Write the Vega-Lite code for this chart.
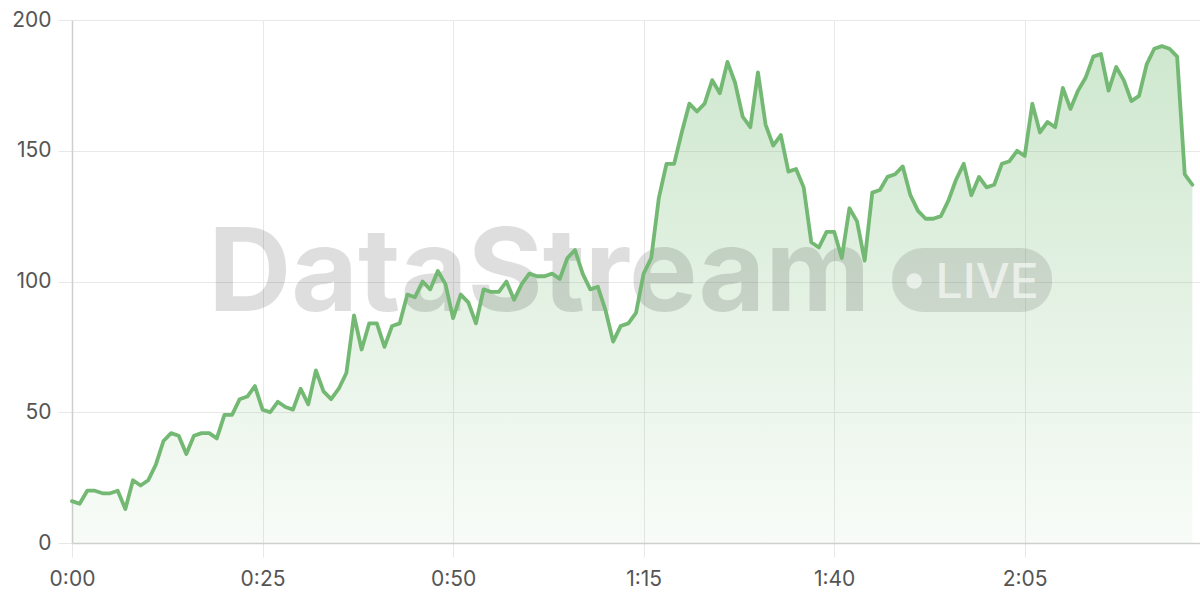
{
  "$schema": "https://vega.github.io/schema/vega-lite/v6.json",
  "width": 1128,
  "height": 523,
  "autosize": "none",
  "padding": {"left": 72, "top": 20, "right": 0, "bottom": 57},
  "background": "white",
  "config": {
    "view": {"stroke": null},
    "axis": {
      "labelFont": "Inter",
      "labelFontSize": 21,
      "labelColor": "#555555",
      "gridColor": "#e8e8e8",
      "gridWidth": 1,
      "tickColor": "#e8e8e8",
      "tickSize": 14,
      "domainColor": "#cfcfcf",
      "domainWidth": 1.5,
      "title": null
    }
  },
  "datasets": {
    "series": [
      {"t":0,"v":16},{"t":1,"v":15},{"t":2,"v":20},{"t":3,"v":20},{"t":4,"v":19},{"t":5,"v":19},{"t":6,"v":20},{"t":7,"v":13},{"t":8,"v":24},{"t":9,"v":22},
      {"t":10,"v":24},{"t":11,"v":30},{"t":12,"v":39},{"t":13,"v":42},{"t":14,"v":41},{"t":15,"v":34},{"t":16,"v":41},{"t":17,"v":42},{"t":18,"v":42},{"t":19,"v":40},
      {"t":20,"v":49},{"t":21,"v":49},{"t":22,"v":55},{"t":23,"v":56},{"t":24,"v":60},{"t":25,"v":51},{"t":26,"v":50},{"t":27,"v":54},{"t":28,"v":52},{"t":29,"v":51},
      {"t":30,"v":59},{"t":31,"v":53},{"t":32,"v":66},{"t":33,"v":58},{"t":34,"v":55},{"t":35,"v":59},{"t":36,"v":65},{"t":37,"v":87},{"t":38,"v":74},{"t":39,"v":84},
      {"t":40,"v":84},{"t":41,"v":75},{"t":42,"v":83},{"t":43,"v":84},{"t":44,"v":95},{"t":45,"v":94},{"t":46,"v":100},{"t":47,"v":97},{"t":48,"v":104},{"t":49,"v":99},
      {"t":50,"v":86},{"t":51,"v":95},{"t":52,"v":92},{"t":53,"v":84},{"t":54,"v":97},{"t":55,"v":96},{"t":56,"v":96},{"t":57,"v":100},{"t":58,"v":93},{"t":59,"v":99},
      {"t":60,"v":103},{"t":61,"v":102},{"t":62,"v":102},{"t":63,"v":103},{"t":64,"v":101},{"t":65,"v":109},{"t":66,"v":112},{"t":67,"v":103},{"t":68,"v":97},{"t":69,"v":98},
      {"t":70,"v":89},{"t":71,"v":77},{"t":72,"v":83},{"t":73,"v":84},{"t":74,"v":88},{"t":75,"v":103},{"t":76,"v":109},{"t":77,"v":132},{"t":78,"v":145},{"t":79,"v":145},
      {"t":80,"v":157},{"t":81,"v":168},{"t":82,"v":165},{"t":83,"v":168},{"t":84,"v":177},{"t":85,"v":172},{"t":86,"v":184},{"t":87,"v":176},{"t":88,"v":163},{"t":89,"v":159},
      {"t":90,"v":180},{"t":91,"v":160},{"t":92,"v":152},{"t":93,"v":156},{"t":94,"v":142},{"t":95,"v":143},{"t":96,"v":136},{"t":97,"v":115},{"t":98,"v":113},{"t":99,"v":119},
      {"t":100,"v":119},{"t":101,"v":109},{"t":102,"v":128},{"t":103,"v":123},{"t":104,"v":108},{"t":105,"v":134},{"t":106,"v":135},{"t":107,"v":140},{"t":108,"v":141},{"t":109,"v":144},
      {"t":110,"v":133},{"t":111,"v":127},{"t":112,"v":124},{"t":113,"v":124},{"t":114,"v":125},{"t":115,"v":131},{"t":116,"v":139},{"t":117,"v":145},{"t":118,"v":133},{"t":119,"v":140},
      {"t":120,"v":136},{"t":121,"v":137},{"t":122,"v":145},{"t":123,"v":146},{"t":124,"v":150},{"t":125,"v":148},{"t":126,"v":168},{"t":127,"v":157},{"t":128,"v":161},{"t":129,"v":159},
      {"t":130,"v":174},{"t":131,"v":166},{"t":132,"v":173},{"t":133,"v":178},{"t":134,"v":186},{"t":135,"v":187},{"t":136,"v":173},{"t":137,"v":182},{"t":138,"v":177},{"t":139,"v":169},
      {"t":140,"v":171},{"t":141,"v":183},{"t":142,"v":189},{"t":143,"v":190},{"t":144,"v":189},{"t":145,"v":186},{"t":146,"v":141},{"t":147,"v":137}
    ]
  },
  "layer": [
    {
      "data": {"name": "series"},
      "mark": {
        "type": "area",
        "color": {
          "gradient": "linear", "x1": 0, "y1": 0, "x2": 0, "y2": 1,
          "stops": [
            {"offset": 0, "color": "rgba(116,187,116,0.35)"},
            {"offset": 1, "color": "rgba(116,187,116,0.05)"}
          ]
        }
      },
      "encoding": {
        "x": {
          "field": "t", "type": "quantitative",
          "scale": {"domain": [0, 148], "nice": false, "zero": false},
          "axis": {
            "values": [0, 25, 50, 75, 100, 125],
            "labelExpr": "floor(datum.value/60) + ':' + (datum.value % 60 < 10 ? '0' : '') + (datum.value % 60)",
            "labelPadding": 11,
            "labelFlush": false
          }
        },
        "y": {
          "field": "v", "type": "quantitative",
          "scale": {"domain": [0, 200], "nice": false},
          "axis": {"values": [0, 50, 100, 150, 200], "labelPadding": 7}
        }
      }
    },
    {
      "data": {"values": [{"label": "DataStream"}]},
      "mark": {"type": "text", "font": "Inter", "fontSize": 115, "fontWeight": "bold", "align": "center", "baseline": "alphabetic", "color": "#000000", "opacity": 0.125},
      "encoding": {
        "x": {"datum": 61.3, "type": "quantitative"},
        "y": {"datum": 88.7, "type": "quantitative"},
        "text": {"field": "label"}
      }
    },
    {
      "data": {"values": [{"badge": "LIVE"}]},
      "mark": {"type": "rect", "color": "#000000", "opacity": 0.11, "cornerRadius": 31},
      "encoding": {
        "x": {"datum": 107.6, "type": "quantitative"},
        "x2": {"datum": 128.6},
        "y": {"datum": 112.8, "type": "quantitative"},
        "y2": {"datum": 88.3}
      }
    },
    {
      "data": {"values": [{"badge": "LIVE"}]},
      "mark": {"type": "point", "shape": "circle", "filled": true, "size": 240, "color": "#ffffff", "opacity": 0.6},
      "encoding": {
        "x": {"datum": 110.5, "type": "quantitative"},
        "y": {"datum": 100.2, "type": "quantitative"}
      }
    },
    {
      "data": {"values": [{"badge": "LIVE"}]},
      "mark": {"type": "text", "font": "Inter", "fontSize": 48, "fontWeight": 500, "align": "left", "baseline": "alphabetic", "color": "#ffffff", "opacity": 0.6},
      "encoding": {
        "x": {"datum": 113.3, "type": "quantitative"},
        "y": {"datum": 93.7, "type": "quantitative"},
        "text": {"field": "badge"}
      }
    },
    {
      "data": {"name": "series"},
      "mark": {"type": "line", "color": "#74b973", "strokeWidth": 3.8, "strokeJoin": "round", "strokeCap": "round"},
      "encoding": {
        "x": {"field": "t", "type": "quantitative"},
        "y": {"field": "v", "type": "quantitative"}
      }
    }
  ]
}
